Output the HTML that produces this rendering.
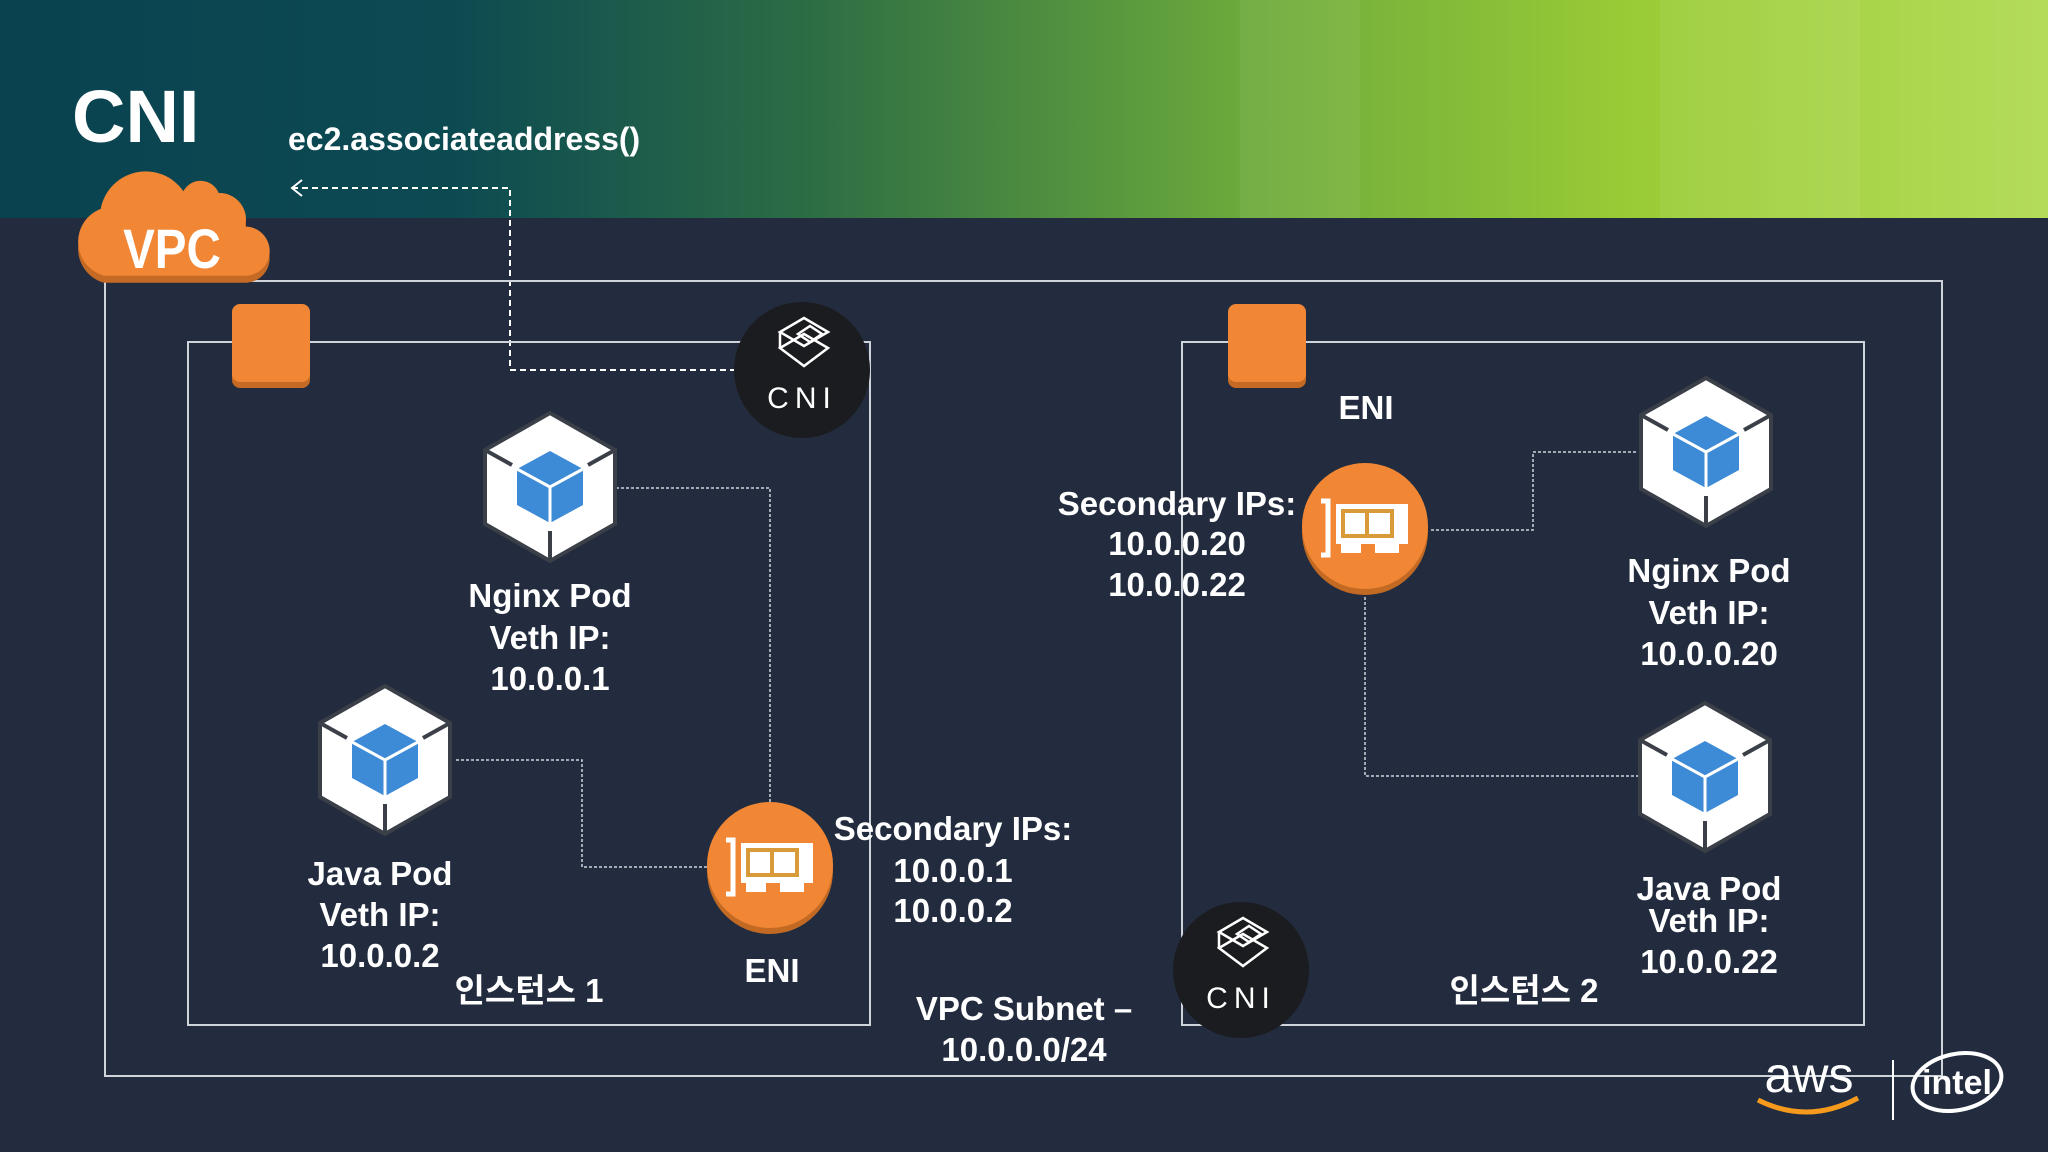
<!DOCTYPE html>
<html><head><meta charset="utf-8"><style>
html,body{margin:0;padding:0;width:2048px;height:1152px;overflow:hidden;background:#232c3e}
svg{display:block}
text{font-family:"Liberation Sans","Noto Sans CJK KR",sans-serif;fill:#fff;font-weight:bold}
</style></head><body>
<svg width="2048" height="1152" viewBox="0 0 2048 1152" xmlns="http://www.w3.org/2000/svg">
<defs>
<linearGradient id="hg" x1="0" y1="0" x2="1" y2="0">
<stop offset="0" stop-color="#0a4250"/>
<stop offset="0.22" stop-color="#0c4a52"/>
<stop offset="0.4" stop-color="#2e6e44"/>
<stop offset="0.6" stop-color="#6aa83c"/>
<stop offset="0.8" stop-color="#9acc36"/>
<stop offset="1" stop-color="#b4dc5a"/>
</linearGradient>
<g id="cube">
<polygon points="0,-74 65,-37 65,37 0,74 -65,37 -65,-37" fill="#fff" stroke="#3a3f48" stroke-width="4"/>
<line x1="-65" y1="-37" x2="-38" y2="-22" stroke="#3a3f48" stroke-width="4"/>
<line x1="65" y1="-37" x2="38" y2="-22" stroke="#3a3f48" stroke-width="4"/>
<line x1="0" y1="74" x2="0" y2="44" stroke="#3a3f48" stroke-width="4"/>
<polygon points="0,-36 33,-18 33,18 0,36 -33,18 -33,-18" fill="#3d8ad6"/>
<polyline points="-33,-18 0,0 33,-18" fill="none" stroke="#fff" stroke-width="3"/>
<line x1="0" y1="0" x2="0" y2="36" stroke="#fff" stroke-width="3"/>
</g>
<g id="eni">
<circle cx="0" cy="6" r="63" fill="#c26a23"/>
<circle cx="0" cy="0" r="63" fill="#f18634"/>
<path d="M-44,-25 h7 v54 h-7" fill="none" stroke="#fff" stroke-width="5"/>
<rect x="-29" y="-22" width="72" height="40" fill="#fff"/>
<rect x="-24" y="-17" width="53" height="29" fill="#d99b3a"/>
<rect x="-20" y="-13" width="20" height="21" fill="#fff"/>
<rect x="4" y="-13" width="21" height="21" fill="#fff"/>
<rect x="-24" y="18" width="20" height="9" fill="#fff"/>
<rect x="10" y="18" width="24" height="9" fill="#fff"/>
</g>
<g id="cni">
<circle cx="0" cy="0" r="68" fill="#1b1c1f"/>
<g fill="none" stroke="#fff" stroke-width="2.5">
<polygon points="2,-52 26,-38 2,-24 -22,-38"/>
<polygon points="2,-36 26,-22 2,-4 -22,-22"/>
<polyline points="-22,-38 -22,-22"/>
<polygon points="8,-44 20,-36 8,-28 -4,-36"/>
</g>
<text x="0" y="38" text-anchor="middle" font-size="30" style="font-weight:normal;letter-spacing:6px">CNI</text>
</g>
</defs>
<rect x="0" y="0" width="2048" height="218" fill="url(#hg)"/>
<rect x="1240" y="0" width="120" height="218" fill="#fff" opacity="0.06"/>
<rect x="1660" y="0" width="200" height="218" fill="#fff" opacity="0.06"/>
<text x="72" y="142" font-size="74">CNI</text>
<text x="288" y="150" font-size="32">ec2.associateaddress()</text>
<polyline points="292,188 510,188 510,370 740,370" fill="none" stroke="#fff" stroke-width="2" stroke-dasharray="6,4"/>
<polyline points="302,180 292,188 302,196" fill="none" stroke="#fff" stroke-width="2"/>
<rect x="105" y="281" width="1837" height="795" fill="none" stroke="#cfd3da" stroke-width="2"/>
<rect x="188" y="342" width="682" height="683" fill="none" stroke="#cfd3da" stroke-width="2"/>
<rect x="1182" y="342" width="682" height="683" fill="none" stroke="#cfd3da" stroke-width="2"/>
<g transform="translate(172,230) scale(0.88) translate(-172,-230)">
<path d="M95,290 h160 a28,28 0 0 0 0,-56 a30,30 0 0 0 -30,-38 a22,22 0 0 0 -40,-2 a52,52 0 0 0 -94,20 a40,40 0 0 0 4,76 z" fill="#c46a25"/>
<path d="M95,282 h160 a28,28 0 0 0 0,-56 a30,30 0 0 0 -30,-38 a22,22 0 0 0 -40,-2 a52,52 0 0 0 -94,20 a40,40 0 0 0 4,76 z" fill="#f18634"/>
</g>
<text x="172" y="268" text-anchor="middle" font-size="56" transform="translate(172,0) scale(0.85,1) translate(-172,0)">VPC</text>
<rect x="232" y="308" width="78" height="80" rx="8" fill="#c46a25"/>
<rect x="232" y="304" width="78" height="78" rx="8" fill="#f18634"/>
<rect x="1228" y="308" width="78" height="80" rx="8" fill="#c46a25"/>
<rect x="1228" y="304" width="78" height="78" rx="8" fill="#f18634"/>
<g fill="none" stroke="#cfd3da" stroke-width="1.5" stroke-dasharray="3,2">
<polyline points="616,488 770,488 770,810"/>
<polyline points="456,760 582,760 582,867 712,867"/>
<polyline points="1431,530 1533,530 1533,452 1638,452"/>
<polyline points="1365,597 1365,776 1638,776"/>
</g>
<use href="#cni" x="802" y="370"/>
<use href="#cni" x="1241" y="970"/>
<use href="#cube" x="550" y="487"/>
<use href="#cube" x="385" y="760"/>
<use href="#cube" x="1706" y="452"/>
<use href="#cube" x="1705" y="777"/>
<use href="#eni" x="770" y="865"/>
<use href="#eni" x="1365" y="526"/>
<g font-size="33" text-anchor="middle">
<text x="550" y="607">Nginx Pod</text><text x="550" y="649">Veth IP:</text><text x="550" y="690">10.0.0.1</text>
<text x="380" y="885">Java Pod</text><text x="380" y="926">Veth IP:</text><text x="380" y="967">10.0.0.2</text>
<text x="529" y="1002">인스턴스 1</text>
<text x="772" y="982">ENI</text>
<text x="953" y="840">Secondary IPs:</text><text x="953" y="882">10.0.0.1</text><text x="953" y="922">10.0.0.2</text>
<text x="1024" y="1020">VPC Subnet –</text><text x="1024" y="1061">10.0.0.0/24</text>
<text x="1366" y="419">ENI</text>
<text x="1177" y="515">Secondary IPs:</text><text x="1177" y="555">10.0.0.20</text><text x="1177" y="596">10.0.0.22</text>
<text x="1709" y="582">Nginx Pod</text><text x="1709" y="624">Veth IP:</text><text x="1709" y="665">10.0.0.20</text>
<text x="1709" y="900">Java Pod</text><text x="1709" y="932">Veth IP:</text><text x="1709" y="973">10.0.0.22</text>
<text x="1524" y="1002">인스턴스 2</text>
</g>
<text x="1809" y="1092" text-anchor="middle" font-size="50" style="font-weight:normal">aws</text>
<path d="M1758,1100 q50,25 100,-2" fill="none" stroke="#f59a1c" stroke-width="5"/>
<line x1="1893" y1="1060" x2="1893" y2="1120" stroke="#fff" stroke-width="2"/>
<ellipse cx="1957" cy="1082" rx="45" ry="28" fill="none" stroke="#fff" stroke-width="4" transform="rotate(-12 1957 1082)"/>
<text x="1957" y="1094" text-anchor="middle" font-size="34">intel</text>
</svg>
</body></html>
